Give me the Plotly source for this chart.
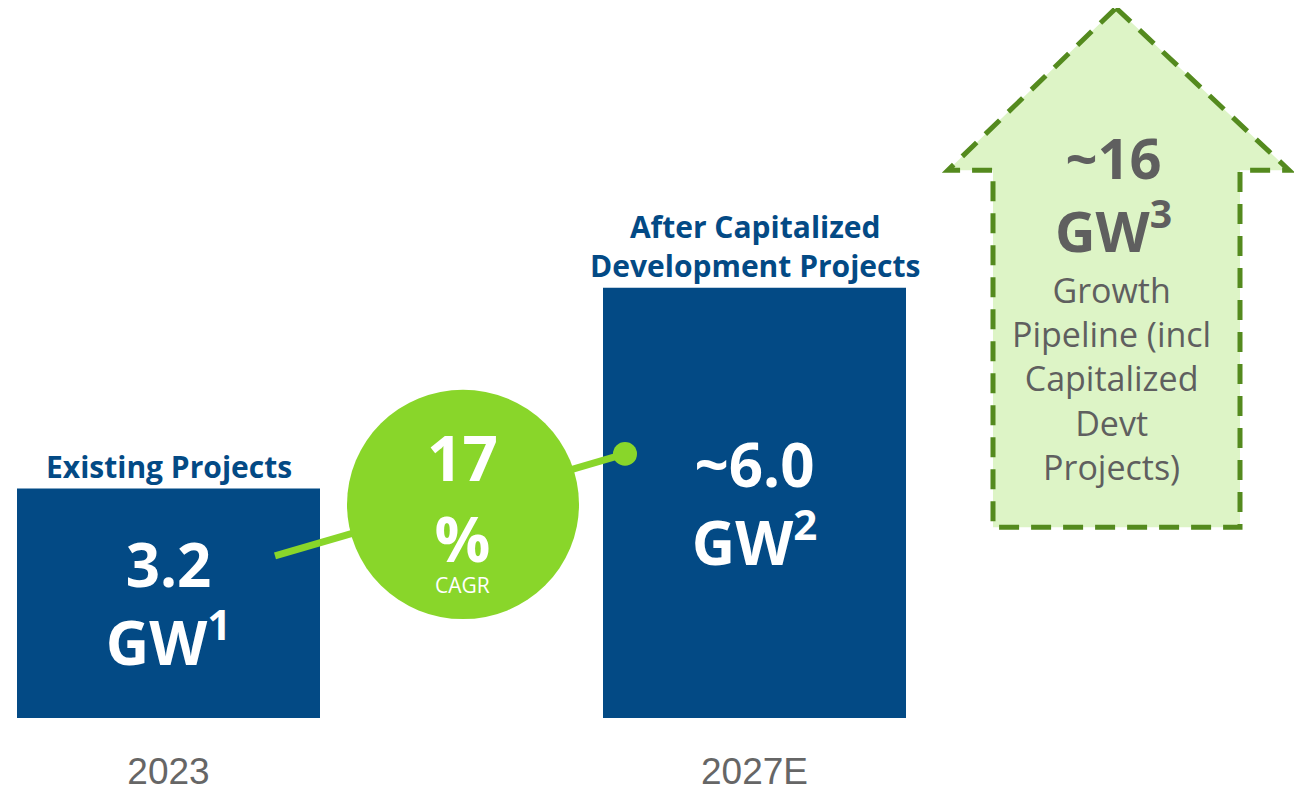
import plotly.graph_objects as go

# ---- data ----
years = ["2023", "2027E"]
capacity_gw = [3.2, 6.0]
bar_value_labels = ["3.2<br>GW<sup>1</sup>", "~6.0<br>GW<sup>2</sup>"]
bar_titles = ["Existing Projects", "After Capitalized<br>Development Projects"]
cagr_value = "17<br>%"
cagr_caption = "CAGR"
pipeline_value = "~16<br>GW<sup>3</sup>"
pipeline_caption = "Growth<br>Pipeline (incl<br>Capitalized<br>Devt<br>Projects)"

# ---- layout helpers (page pixel -> paper); page body has an 8px margin ----
OFF = 8
W, H = 1302 - OFF, 792 - OFF
B = 66
PH = H - B
BASE = PH + OFF  # page y of the bar baseline
PX_PER_UNIT = 72.5
PX_PER_CAT = 586.0
CAT0 = 168.5 - OFF


def px(x):
    return (x - OFF) / W


def py(y):
    return (BASE - y) / PH


BLUE = "#034A85"
GREEN = "#89D62A"
DARK_GREEN = "#548A1E"
LIGHT_GREEN = "#DDF4C6"
GREY = "#5F5F5F"

fig = go.Figure()
fig.add_trace(go.Bar(
    x=[0, 1],
    y=capacity_gw,
    width=303 / PX_PER_CAT,
    marker=dict(color=BLUE, line=dict(width=0)),
    text=bar_value_labels,
    textposition="inside",
    insidetextanchor="middle",
    textangle=0,
    textfont=dict(family="Open Sans", size=60, color="white", weight="bold"),
    hoverinfo="skip",
))

shapes = []
# arrow (growth pipeline)
arrow_pts = [(1116, 8), (1289, 172), (1240, 172), (1240, 533), (993, 533), (993, 172), (948, 172)]
path = "M " + " L ".join(f"{px(a)},{py(b)}" for a, b in arrow_pts) + " Z"
shapes.append(dict(type="path", xref="paper", yref="paper", path=path,
                   fillcolor=LIGHT_GREEN,
                   line=dict(color=DARK_GREEN, width=5, dash="20px,12px"),
                   layer="above"))
# connector line
shapes.append(dict(type="line", xref="paper", yref="paper",
                   x0=px(275), y0=py(562), x1=px(625), y1=py(459),
                   line=dict(color=GREEN, width=7), layer="above"))
shapes.append(dict(type="circle", xref="paper", yref="paper",
                   x0=px(613), x1=px(637), y0=py(471), y1=py(447),
                   fillcolor=GREEN, line=dict(width=0), layer="above"))
# CAGR circle
shapes.append(dict(type="circle", xref="paper", yref="paper",
                   x0=px(347), x1=px(579), y0=py(626), y1=py(394),
                   fillcolor=GREEN, line=dict(width=0), layer="above"))

annotations = []
# bar titles
for i, t in enumerate(bar_titles):
    annotations.append(dict(x=i, y=capacity_gw[i], xref="x", yref="y",
                            text=f"<b>{t}</b>", showarrow=False,
                            xanchor="center", yanchor="bottom", yshift=0,
                            font=dict(family="Open Sans", size=30, color=BLUE)))
# CAGR text
annotations.append(dict(x=px(462), y=py(503), xref="paper", yref="paper",
                        text=f"<b>{cagr_value}</b>", showarrow=False,
                        xanchor="center", yanchor="middle",
                        font=dict(family="Open Sans", size=62, color="white")))
annotations.append(dict(x=px(462), y=py(591), xref="paper", yref="paper",
                        text=cagr_caption, showarrow=False,
                        xanchor="center", yanchor="middle",
                        font=dict(family="Open Sans", size=21, color="white")))
# pipeline text
annotations.append(dict(x=px(1113), y=py(196), xref="paper", yref="paper",
                        text=f"<b>{pipeline_value}</b>", showarrow=False,
                        xanchor="center", yanchor="middle",
                        font=dict(family="Open Sans", size=56, color=GREY)))
annotations.append(dict(x=px(1111), y=py(383), xref="paper", yref="paper",
                        text=pipeline_caption, showarrow=False,
                        xanchor="center", yanchor="middle",
                        font=dict(family="Open Sans", size=34, color=GREY)))

fig.update_layout(
    width=W, height=H,
    margin=dict(l=0, r=0, t=0, b=B),
    paper_bgcolor="white", plot_bgcolor="white",
    showlegend=False,
    shapes=shapes,
    annotations=annotations,
    xaxis=dict(range=[-CAT0 / PX_PER_CAT, (W - CAT0) / PX_PER_CAT],
               tickvals=[0, 1], ticktext=years,
               showgrid=False, zeroline=False, showline=False, ticks="",
               ticklabelstandoff=28,
               tickfont=dict(family="Liberation Sans", size=37, color="#666666"),
               fixedrange=True),
    yaxis=dict(range=[0, PH / PX_PER_UNIT], visible=False, fixedrange=True),
    hovermode=False,
)

fig.write_html("out.html", config={"displayModeBar": False})
